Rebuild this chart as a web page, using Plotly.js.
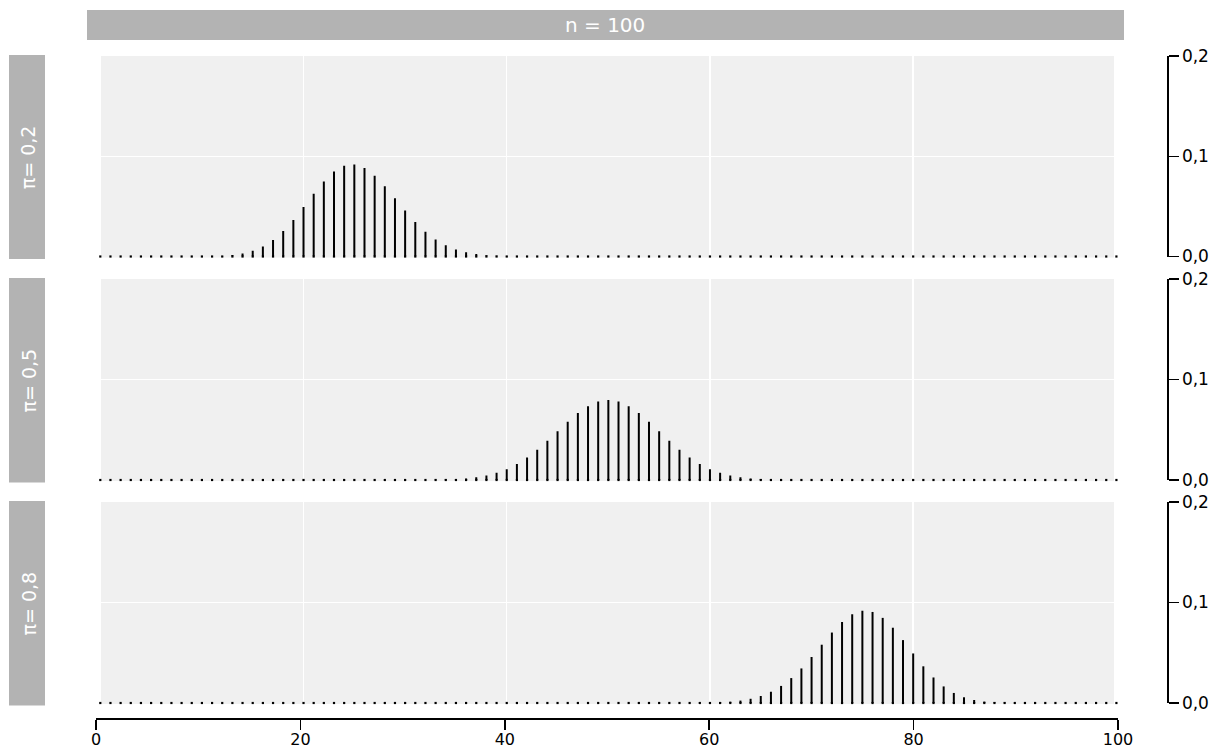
<!DOCTYPE html>
<html>
<head>
<meta charset="utf-8">
<script src="https://cdn.plot.ly/plotly-3.0.1.min.js"></script>
<style>html,body{margin:0;padding:0;background:#fff;}#chart{width:1220px;height:751px;}</style>
</head>
<body>
<div id="chart"></div>
<script>
// number of successes k = 0..100
const successes = [
  0,1,2,3,4,5,6,7,8,9,
  10,11,12,13,14,15,16,17,18,19,
  20,21,22,23,24,25,26,27,28,29,
  30,31,32,33,34,35,36,37,38,39,
  40,41,42,43,44,45,46,47,48,49,
  50,51,52,53,54,55,56,57,58,59,
  60,61,62,63,64,65,66,67,68,69,
  70,71,72,73,74,75,76,77,78,79,
  80,81,82,83,84,85,86,87,88,89,
  90,91,92,93,94,95,96,97,98,99,
  100];

// probabilities
const probPi02 = [
  0,0,0,0,0,0,0,0,0,0,
  0.0001,0.0003,0.0006,0.0014,0.0030,0.0057,0.0100,0.0165,0.0254,0.0365,
  0.0493,0.0626,0.0749,0.0847,0.0906,0.0918,0.0883,0.0806,0.0701,0.0580,
  0.0458,0.0344,0.0248,0.0170,0.0112,0.0070,0.0042,0.0024,0.0013,0.0007,
  0.0004,0.0002,0.0001,0,0,0,0,0,0,0,
  0,0,0,0,0,0,0,0,0,0,
  0,0,0,0,0,0,0,0,0,0,
  0,0,0,0,0,0,0,0,0,0,
  0,0,0,0,0,0,0,0,0,0,
  0,0,0,0,0,0,0,0,0,0,
  0];

const probPi05 = [
  0,0,0,0,0,0,0,0,0,0,
  0,0,0,0,0,0,0,0,0,0,
  0,0,0,0,0,0,0,0,0,0,
  0,0,0,0.0002,0.0005,0.0009,0.0016,0.0027,0.0045,0.0071,
  0.0108,0.0159,0.0223,0.0301,0.0390,0.0485,0.0580,0.0666,0.0735,0.0780,
  0.0796,0.0780,0.0735,0.0666,0.0580,0.0485,0.0390,0.0301,0.0223,0.0159,
  0.0108,0.0071,0.0045,0.0027,0.0016,0.0009,0.0005,0.0002,0,0,
  0,0,0,0,0,0,0,0,0,0,
  0,0,0,0,0,0,0,0,0,0,
  0,0,0,0,0,0,0,0,0,0,
  0];

const probPi08 = [
  0,0,0,0,0,0,0,0,0,0,
  0,0,0,0,0,0,0,0,0,0,
  0,0,0,0,0,0,0,0,0,0,
  0,0,0,0,0,0,0,0,0,0,
  0,0,0,0,0,0,0,0,0,0,
  0,0,0,0,0,0,0,0,0.0001,0.0002,
  0.0004,0.0007,0.0013,0.0024,0.0042,0.0070,0.0112,0.0170,0.0248,0.0344,
  0.0458,0.0580,0.0701,0.0806,0.0883,0.0918,0.0906,0.0847,0.0749,0.0626,
  0.0493,0.0365,0.0254,0.0165,0.0100,0.0057,0.0030,0.0014,0.0006,0.0003,
  0.0001,0,0,0,0,0,0,0,0,0,
  0];

const panelLabels = ["π= 0,2", "π= 0,5", "π= 0,8"];
const stripLabel = "n = 100";
const xTickVals = [0, 20, 40, 60, 80, 100];
const yTickVals = [0, 0.1, 0.2];

// ---- layout geometry (pixels) ----
const W = 1220, H = 751;
const px = v => v / W;
const py = v => 1 - v / H;
const panels = [ // pixel rows of 0.2 (top) and 0.0 (bottom)
  {top: 56, bottom: 256.5},
  {top: 279, bottom: 480},
  {top: 502, bottom: 703}
];
const series = [probPi02, probPi05, probPi08];
const yNames = ['y', 'y2', 'y3'];
const yLayoutNames = ['yaxis', 'yaxis2', 'yaxis3'];

const traces = [];
series.forEach((probs, i) => {
  const xs = [], ys = [];
  successes.forEach((k, j) => { xs.push(k, k, null); ys.push(0, probs[j], null); });
  traces.push({
    type: 'scatter', mode: 'lines', x: xs, y: ys,
    xaxis: 'x', yaxis: yNames[i],
    line: {color: '#000', width: 2}, hoverinfo: 'skip', showlegend: false
  });
  traces.push({
    type: 'scatter', mode: 'markers', x: successes, y: successes.map(() => 0),
    xaxis: 'x', yaxis: yNames[i],
    marker: {symbol: 'square', size: 2.2, color: '#000', line: {width: 0}},
    hoverinfo: 'skip', showlegend: false, cliponaxis: false
  });
});
// carrier trace so the separate bottom axis is drawn
traces.push({
  type: 'scatter', mode: 'markers', x: [null], y: [null],
  xaxis: 'x4', yaxis: 'y4', hoverinfo: 'skip', showlegend: false
});

const font = 'DejaVu Sans, Liberation Sans, Arial, sans-serif';
const layout = {
  width: W, height: H,
  margin: {l: 0, r: 0, t: 0, b: 0},
  paper_bgcolor: '#ffffff', plot_bgcolor: 'rgba(0,0,0,0)',
  separators: ', ',
  showlegend: false,
  font: {family: font, color: '#000', size: 18},
  xaxis: {
    domain: [px(100.3), px(1116.4)], range: [0, 100], anchor: 'y3',
    tickvals: [20, 40, 60, 80], showticklabels: false, ticks: '',
    showline: false, zeroline: false,
    showgrid: true, gridcolor: '#ffffff', gridwidth: 1.5
  },
  xaxis4: {
    domain: [px(96), px(1118)], range: [0, 100], anchor: 'free', position: py(718),
    side: 'bottom', tickvals: xTickVals, ticks: 'outside', ticklen: 10, tickwidth: 1.5,
    tickcolor: '#000', showline: true, linecolor: '#000', linewidth: 1.5,
    showgrid: false, zeroline: false, tickfont: {size: 16, family: font},
    ticklabelstandoff: -4
  },
  yaxis4: {
    domain: [0, 0.01], range: [0, 1], anchor: 'free', position: 0,
    visible: false, showgrid: false, zeroline: false
  },
  shapes: [], annotations: []
};

panels.forEach((p, i) => {
  layout[yLayoutNames[i]] = {
    domain: [py(p.bottom), py(p.top)], range: [0, 0.2],
    anchor: 'free', position: px(1167), side: 'right',
    tickvals: yTickVals, tickformat: '.1f', ticks: 'outside', ticklen: 10, tickwidth: 1.5,
    tickcolor: '#000', showline: true, linecolor: '#000', linewidth: 1.5,
    showgrid: true, gridcolor: '#ffffff', gridwidth: 1.5, zeroline: false,
    tickfont: {size: 17, family: font}
  };
  // panel background
  layout.shapes.push({
    type: 'rect', xref: 'paper', yref: 'paper', layer: 'below',
    x0: px(101), x1: px(1114), y0: py(p.bottom + 1), y1: py(p.top),
    fillcolor: '#f0f0f0', line: {width: 0}
  });
  // left strip
  layout.shapes.push({
    type: 'rect', xref: 'paper', yref: 'paper', layer: 'below',
    x0: px(9), x1: px(45), y0: py(p.bottom + 2.5), y1: py(p.top - 1),
    fillcolor: '#b3b3b3', line: {width: 0}
  });
  layout.annotations.push({
    xref: 'paper', yref: 'paper', x: px(28), y: py((p.top + p.bottom) / 2 + 1),
    xanchor: 'center', yanchor: 'middle', showarrow: false, textangle: -90,
    text: panelLabels[i], font: {size: 19, color: '#ffffff', family: font}
  });
});

// top strip
layout.shapes.push({
  type: 'rect', xref: 'paper', yref: 'paper', layer: 'below',
  x0: px(87), x1: px(1124), y0: py(40), y1: py(10),
  fillcolor: '#b3b3b3', line: {width: 0}
});
layout.annotations.push({
  xref: 'paper', yref: 'paper', x: px(605), y: py(25),
  xanchor: 'center', yanchor: 'middle', showarrow: false,
  text: stripLabel, font: {size: 20, color: '#ffffff', family: font}
});

Plotly.newPlot('chart', traces, layout, {displayModeBar: false, staticPlot: true});
</script>
</body>
</html>
